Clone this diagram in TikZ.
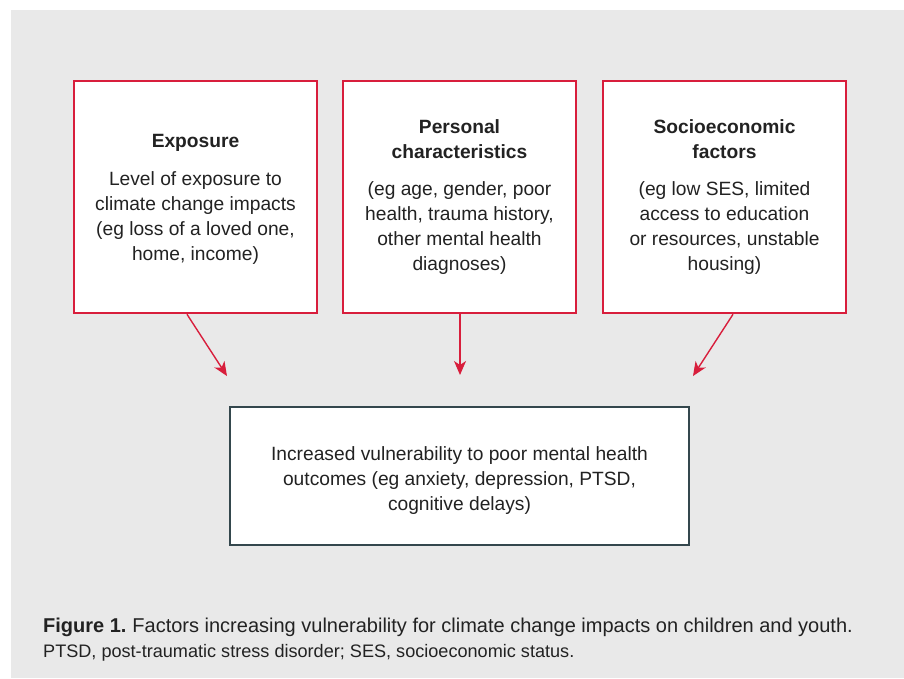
\documentclass[tikz,border=0pt]{standalone}
\usepackage{fontspec}
\setmainfont{Liberation Sans}
\usetikzlibrary{arrows.meta,calc}

\definecolor{panelgray}{HTML}{E9E9E9}
\definecolor{factorred}{HTML}{D81E3C}
\definecolor{outcomeslate}{HTML}{34474D}
\definecolor{inktext}{HTML}{222222}

\tikzset{
  factorbox/.style={draw=factorred, line width=2.6pt, fill=white,
    inner sep=0pt, align=center, text=inktext,
    font=\fontsize{19.2}{25}\selectfont},
  outcomebox/.style={draw=outcomeslate, line width=2.4pt, fill=white,
    inner sep=0pt},
  outcometext/.style={inner sep=0pt, align=center, text=inktext,
    font=\fontsize{19.2}{25}\selectfont},
  linkarrow/.style={draw=factorred, line width=1.4pt,
    -{Stealth[length=14pt,width=12pt,inset=4pt]}},
  captionmain/.style={anchor=base west, inner sep=0pt, text=inktext,
    font=\fontsize{20}{24}\selectfont},
  captionnote/.style={anchor=base west, inner sep=0pt, text=inktext,
    font=\fontsize{18.1}{21}\selectfont},
}

\begin{document}
\begin{tikzpicture}[x=1pt,y=-1pt]
  \useasboundingbox (0,0) rectangle (904,678);
  % grey panel behind the figure
  \fill[panelgray] (11,10) rectangle (904,678);

  % three factor boxes
  \node[factorbox, minimum width=243pt, minimum height=232pt,
        text depth=-4pt] (expo) at (195.5,197)
    {\textbf{Exposure}\\[13pt]
     Level of exposure to\\
     climate change impacts\\
     (eg loss of a loved one,\\
     home, income)};
  \node[factorbox, minimum width=233pt, minimum height=232pt] (pers) at (459.5,197)
    {\textbf{Personal}\\
     \textbf{characteristics}\\[12pt]
     (eg age, gender, poor\\
     health, trauma history,\\
     other mental health\\
     diagnoses)};
  \node[factorbox, minimum width=243pt, minimum height=232pt] (socio) at (724.5,197)
    {\textbf{Socioeconomic}\\
     \textbf{factors}\\[12pt]
     (eg low SES, limited\\
     access to education\\
     or resources, unstable\\
     housing)};

  % outcome box and its text
  \node[outcomebox, minimum width=459pt, minimum height=138pt] (outc) at (459.5,476) {};
  \node[outcometext] (outcText) at ($(outc.center)+(0,5)$)
    {Increased vulnerability to poor mental health\\
     outcomes (eg anxiety, depression, PTSD,\\
     cognitive delays)};

  % arrow tips stop short of the outcome box
  \coordinate (expoTip)  at (227,376);
  \coordinate (persTip)  at (460,375);
  \coordinate (socioTip) at (693,376);
  \draw[linkarrow] ($(expo.south)+(-8.5,0)$) -- (expoTip);
  \draw[linkarrow] ($(pers.south)+(0.5,0)$) -- (persTip);
  \draw[linkarrow] ($(socio.south)+(8.5,0)$) -- (socioTip);

  % caption
  \node[captionmain] (cap) at (43,632)
    {\textbf{Figure 1.}\hspace{-1.5pt} Factors increasing vulnerability for climate change impacts on children and youth.};
  \node[captionnote] (abbr) at (43,657)
    {PTSD, post-traumatic stress disorder; SES, socioeconomic status.};
\end{tikzpicture}
\end{document}
